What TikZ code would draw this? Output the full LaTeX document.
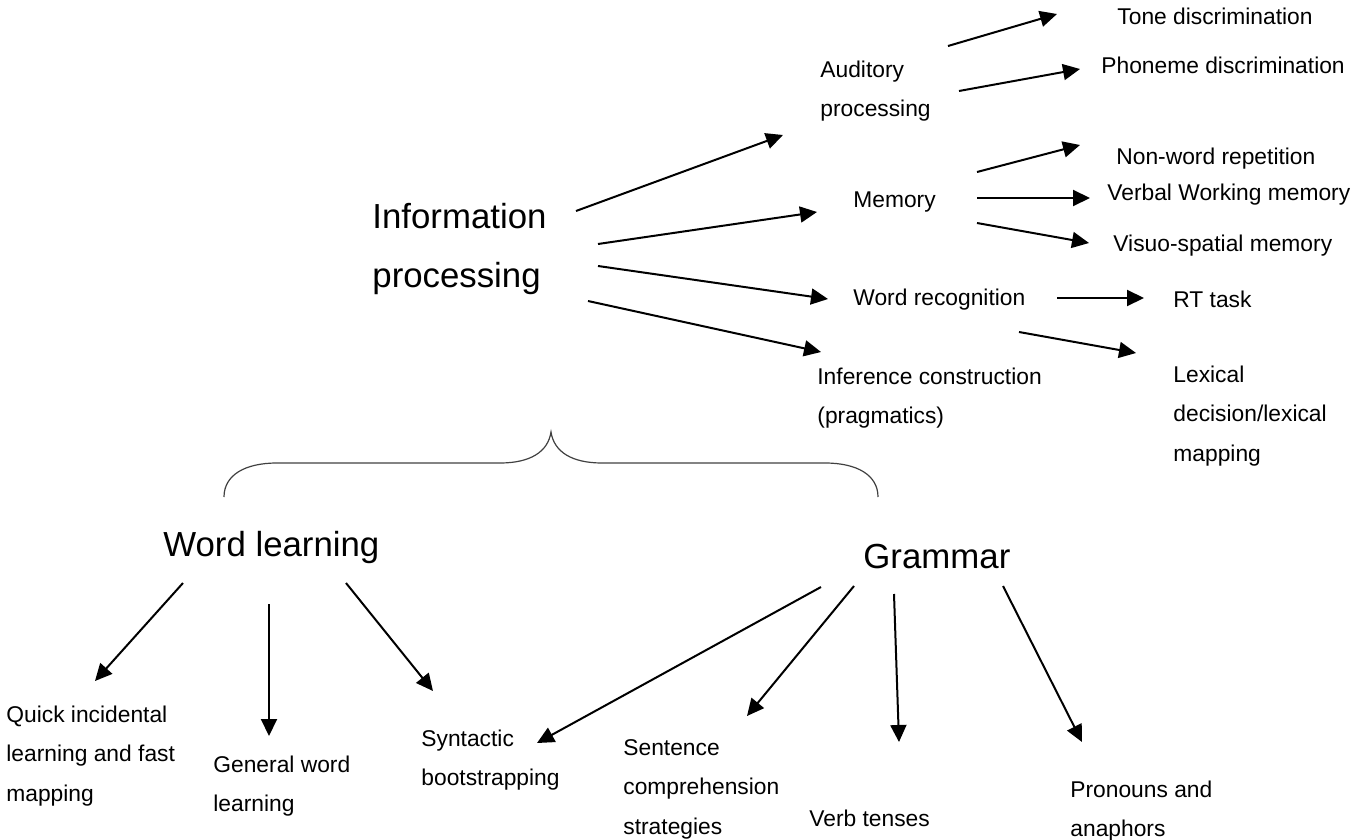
\documentclass[tikz,border=0pt]{standalone}
\usepackage{fontspec}
\setmainfont{Liberation Sans}
\usetikzlibrary{arrows.meta}
\tikzset{
  lbl/.style={anchor=west, yshift=-1.5pt, inner sep=0pt, align=left, font=\fontsize{11.4}{19.7}\selectfont},
  big/.style={anchor=west, yshift=-1.5pt, inner sep=0pt, align=left, font=\fontsize{17.4}{29.5}\selectfont},
  arr/.style={line width=1pt, -{Triangle[length=8.5pt,width=8pt]}},
  bracestyle/.style={line width=0.6pt, draw=black!75}
}
\begin{document}
\begin{tikzpicture}[x=0.5pt,y=-0.5pt]
\useasboundingbox (0,0) rectangle (1354,840);
% nodes
\node[big] (ip) at (372,246) {Information\\processing};
\node[lbl] (aud) at (820,88) {Auditory\\processing};
\node[lbl] (mem) at (853,199) {Memory};
\node[lbl] (wr) at (853,297) {Word recognition};
\node[lbl] (inf) at (817,395) {Inference construction\\(pragmatics)};
\node[lbl] (tone) at (1117,13) {Tone discrimination};
\node[lbl] (pho) at (1101,62) {Phoneme discrimination};
\node[lbl] (nwr) at (1116,156) {Non-word repetition};
\node[lbl] (vwm) at (1107,192) {Verbal Working memory};
\node[lbl] (vsm) at (1113,243) {Visuo-spatial memory};
\node[lbl] (rt) at (1173,296) {RT task};
\node[lbl] (lex) at (1173,413) {Lexical\\decision/lexical\\mapping};
\node[big] (wl) at (163,544) {Word learning};
\node[big] (gr) at (863,554) {Grammar};
\node[lbl] (qil) at (6,753) {Quick incidental\\learning and fast\\mapping};
\node[lbl] (gwl) at (213,783) {General word\\learning};
\node[lbl] (syn) at (421,757) {Syntactic\\bootstrapping};
\node[lbl] (sen) at (623,786) {Sentence\\comprehension\\strategies};
\node[lbl] (vt) at (809,815) {Verb tenses};
\node[lbl] (pro) at (1070,808) {Pronouns and\\anaphors};
% connectors
\draw[arr] ([shift={(204,-38)}]ip.west) -- ([shift={(-37,44)}]aud.west);
\draw[arr] ([shift={(226,-5)}]ip.west) -- ([shift={(-36,10)}]mem.west);
\draw[arr] ([shift={(226,17)}]ip.west) -- ([shift={(-25,-1)}]wr.west);
\draw[arr] ([shift={(216,52)}]ip.west) -- ([shift={(4,-46)}]inf.west);
\draw[arr] ([shift={(128,-45)}]aud.west) -- ([shift={(-60,-2)}]tone.west);
\draw[arr] ([shift={(139,0)}]aud.west) -- ([shift={(-21,4)}]pho.west);
\draw[arr] ([shift={(124,-30)}]mem.west) -- ([shift={(-36,-14)}]nwr.west);
\draw[arr] ([shift={(124,-4)}]mem.west) -- ([shift={(-17,3)}]vwm.west);
\draw[arr] ([shift={(124,21)}]mem.west) -- ([shift={(-24,-3)}]vsm.west);
\draw[arr] ([shift={(204,-2)}]wr.west) -- ([shift={(-29,-1)}]rt.west);
\draw[arr] ([shift={(166,32)}]wr.west) -- ([shift={(-37,-63)}]lex.west);
\draw[arr] ([shift={(20,36)}]wl.west) -- ([shift={(89,-75)}]qil.west);
\draw[arr] ([shift={(106,57)}]wl.west) -- ([shift={(56,-50)}]gwl.west);
\draw[arr] ([shift={(183,36)}]wl.west) -- ([shift={(12,-69)}]syn.west);
\draw[arr] ([shift={(-42,30)}]gr.west) -- ([shift={(116,-17)}]syn.west);
\draw[arr] ([shift={(-9,29)}]gr.west) -- ([shift={(124,-73)}]sen.west);
\draw[arr] ([shift={(31,37)}]gr.west) -- ([shift={(90,-76)}]vt.west);
\draw[arr] ([shift={(140,29)}]gr.west) -- ([shift={(12,-69)}]pro.west);
% brace
\draw[bracestyle] (224,497) .. controls (224,475) and (245,463) .. (277,463)
  -- (500,463) .. controls (530,463) and (548,452) .. (551,432)
  .. controls (554,452) and (572,463) .. (602,463)
  -- (825,463) .. controls (857,463) and (878,475) .. (878,497);
\end{tikzpicture}
\end{document}
